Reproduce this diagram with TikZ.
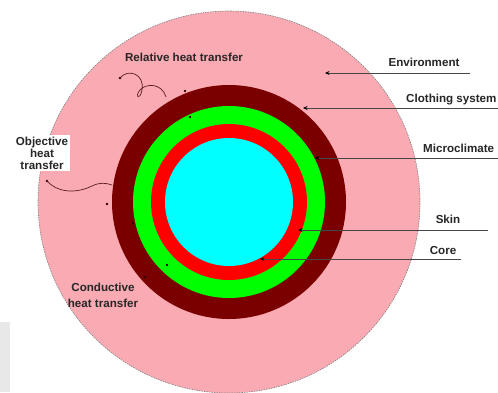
\documentclass[tikz,border=0pt]{standalone}
\usepackage{fontspec}
\setmainfont{Liberation Sans}
\usetikzlibrary{arrows.meta}
\definecolor{envpink}{RGB}{250,170,178}
\definecolor{clothred}{RGB}{122,0,0}
\definecolor{microgreen}{RGB}{0,255,0}
\definecolor{skinred}{RGB}{255,0,0}
\definecolor{corecyan}{RGB}{0,255,255}
\definecolor{leadgray}{RGB}{70,70,70}
\definecolor{curlcol}{RGB}{90,30,30}
\definecolor{markcol}{RGB}{50,0,0}
\definecolor{boxgray}{RGB}{232,232,232}
\begin{document}
\begin{tikzpicture}[x=1pt,y=-1pt,
  lbl/.style={font=\fontsize{11.6}{12}\selectfont\bfseries, text=black!85, inner sep=0pt},
  leader/.style={draw=leadgray, line width=0.9pt, -{Stealth[length=4.5pt,width=4pt,color=black]}},
  squiggle/.style={draw=curlcol, line width=0.7pt},
  blip/.style={fill=markcol, circle, inner sep=0pt, minimum size=2.6pt}]
\useasboundingbox (0,0) rectangle (498,392);
\fill[white] (0,0) rectangle (498,392);
\fill[boxgray] (0,322) rectangle (10,392);
% rings
\filldraw[fill=envpink, draw=gray, dash pattern=on 1.5pt off 1pt, line width=0.6pt] (229,202) circle[radius=191pt];
\fill[clothred] (229,202) circle[radius=117pt];
\fill[microgreen] (229,202) circle[radius=96pt];
\fill[skinred] (229,202) circle[radius=78pt];
\fill[corecyan] (229,202) circle[radius=64pt];
% labels
\node[lbl] (lEnv) at (424,62) {Environment};
\node[lbl, anchor=west] (lCloth) at (406,100) {Clothing system};
\node[lbl, anchor=west] (lMicro) at (423,148) {Microclimate};
\node[lbl] (lSkin) at (448,219) {Skin};
\node[lbl] (lCore) at (443,250) {Core};
\node[lbl] (lRel) at (184,57) {Relative heat transfer};
\node[lbl, fill=white, align=center, inner sep=2pt] (lObj) at (42,153) {Objective\\heat\\transfer};
\node[lbl, align=center, font=\fontsize{11.6}{16}\selectfont\bfseries] (lCond) at (103,295) {Conductive\\heat transfer};
% leader coordinates
\coordinate (envS) at (470,73);  \coordinate (envE) at (325,73);
\coordinate (clS) at (498,108);  \coordinate (clE) at (303,108);
\coordinate (miS) at (498,158);  \coordinate (miE) at (315,158);
\coordinate (skS) at (488,230);  \coordinate (skE) at (298,230);
\coordinate (coS) at (461,259);  \coordinate (coE) at (260,259);
\draw[leader] (envS) -- (envE);
\draw[leader] (clS) -- (clE);
\draw[leader] (miS) -- (miE);
\draw[leader] (skS) -- (skE);
\draw[leader] (coS) -- (coE);
% relative heat transfer squiggle
\node[blip] (relDot) at (120,78) {};
\coordinate (relEnd) at (166,97);
\draw[squiggle] (relDot.center) .. controls (128,68) and (145,74) .. (142,90)
  .. controls (140,101) and (134,97) .. (140,90)
  .. controls (146,83) and (162,83) .. (relEnd);
% objective heat transfer squiggle
\node[blip] (objDot) at (47,181) {};
\coordinate (objEnd) at (112,185);
\draw[squiggle] (objDot.center) .. controls (60,195) and (80,192) .. (92,186)
  .. controls (100,182) and (106,183) .. (objEnd);
% small marks
\node[blip] (m1) at (185,91) {};
\node[blip] (m2) at (190,117) {};
\node[blip] (m3) at (107,204) {};
\node[blip] (m4) at (133,223) {};
\node[blip] (m5) at (167,265) {};
\node[blip] (m6) at (145,277) {};
\end{tikzpicture}
\end{document}
